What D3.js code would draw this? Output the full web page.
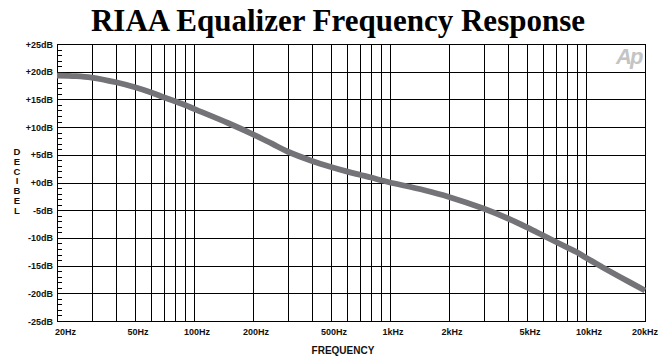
<!DOCTYPE html>
<html>
<head>
<meta charset="utf-8">
<script src="https://cdn.jsdelivr.net/npm/d3@7"></script>
<style>
  body { margin: 0; background: #fff; }
  svg { display: block; }
</style>
</head>
<body>
<div id="chart"></div>
<script>
// Chart data
const freqs = [20, 25, 30, 40, 50, 60, 70, 80, 90, 100, 150, 200, 250, 300, 400, 500, 600, 700, 800, 900,
  1000, 1500, 2000, 3000, 4000, 5000, 6000, 7000, 8000, 9000, 10000, 12000, 15000, 20000];
const gainDb = [19.3, 19.2, 18.95, 18.1, 17.2, 16.3, 15.4, 14.65, 14.0, 13.3, 10.7, 8.7, 7.0, 5.6, 3.9, 2.8, 2.0, 1.4, 0.9, 0.4,
  0.0, -1.4, -2.6, -4.7, -6.5, -8.1, -9.5, -10.7, -11.7, -12.6, -13.6, -15.2, -17.1, -19.5];

const gridFreqs = [20, 30, 40, 50, 60, 70, 80, 90, 100, 200, 300, 400, 500, 600, 700, 800, 900,
  1000, 2000, 3000, 4000, 5000, 6000, 7000, 8000, 9000, 10000, 20000];
const labelFreqs = [20, 50, 100, 200, 500, 1000, 2000, 5000, 10000, 20000];
const freqLabels = ["20Hz", "50Hz", "100Hz", "200Hz", "500Hz", "1kHz", "2kHz", "5kHz", "10kHz", "20kHz"];
const dbTicks = [25, 20, 15, 10, 5, 0, -5, -10, -15, -20, -25];
const dbLabels = ["+25dB", "+20dB", "+15dB", "+10dB", "+5dB", "+0dB", "-5dB", "-10dB", "-15dB", "-20dB", "-25dB"];
const minorDb = d3.range(-24, 25).filter(d => d % 5 !== 0);
const yTitle = "DECIBEL".split("");

const width = 667;
const height = 362;
const plotLeft = 57, plotRight = 645, plotTop = 44, plotBottom = 321;

const x = d3.scaleLog().domain([20, 20000]).range([plotLeft, plotRight]);
const y = d3.scaleLinear().domain([-25, 25]).range([plotBottom, plotTop]);

const svg = d3.select("#chart").append("svg")
    .attr("width", width)
    .attr("height", height);

// Title
svg.append("text")
    .attr("x", 338)
    .attr("y", 31)
    .attr("text-anchor", "middle")
    .attr("font-family", "Liberation Serif, Times New Roman, serif")
    .attr("font-weight", "bold")
    .attr("font-size", 31)
    .attr("fill", "#000")
    .text("RIAA Equalizer Frequency Response");

// Watermark
svg.append("text")
    .attr("x", 616)
    .attr("y", 64)
    .attr("font-family", "Liberation Sans, Arial, sans-serif")
    .attr("font-weight", "bold")
    .attr("font-style", "italic")
    .attr("font-size", 22)
    .attr("letter-spacing", -2)
    .attr("fill", "#c4c4c4")
    .text("Ap");

// Grid
const grid = svg.append("g")
    .attr("stroke", "#000")
    .attr("stroke-width", 1.2)
    .attr("shape-rendering", "crispEdges");

grid.selectAll("line.v")
    .data(gridFreqs)
    .enter().append("line")
    .attr("class", "v")
    .attr("x1", d => Math.round(x(d)) + 0.5)
    .attr("x2", d => Math.round(x(d)) + 0.5)
    .attr("y1", plotTop)
    .attr("y2", plotBottom);

grid.selectAll("line.h")
    .data(dbTicks)
    .enter().append("line")
    .attr("class", "h")
    .attr("x1", plotLeft)
    .attr("x2", plotRight)
    .attr("y1", d => Math.round(y(d)) + 0.5)
    .attr("y2", d => Math.round(y(d)) + 0.5);

grid.selectAll("line.m")
    .data(minorDb)
    .enter().append("line")
    .attr("class", "m")
    .attr("x1", plotLeft)
    .attr("x2", plotLeft + 5)
    .attr("y1", d => Math.round(y(d)) + 0.5)
    .attr("y2", d => Math.round(y(d)) + 0.5);

svg.append("rect")
    .attr("x", plotLeft + 0.5)
    .attr("y", plotTop + 0.5)
    .attr("width", plotRight - plotLeft)
    .attr("height", plotBottom - plotTop)
    .attr("fill", "none")
    .attr("stroke", "#000")
    .attr("stroke-width", 1.3)
    .attr("shape-rendering", "crispEdges");

// Response curve
const line = d3.line()
    .x((d, i) => x(freqs[i]))
    .y(d => y(d))
    .curve(d3.curveCatmullRom);

svg.append("path")
    .datum(gainDb)
    .attr("d", line)
    .attr("fill", "none")
    .attr("stroke", "#737378")
    .attr("stroke-width", 5.8);

// Axis labels
const labelFont = "Liberation Sans, Arial, sans-serif";

svg.append("g").selectAll("text")
    .data(dbTicks)
    .enter().append("text")
    .attr("x", 53)
    .attr("y", d => y(d) + 3.5)
    .attr("text-anchor", "end")
    .attr("font-family", labelFont)
    .attr("font-weight", "bold")
    .attr("font-size", 9)
    .attr("fill", "#111")
    .text((d, i) => dbLabels[i]);

svg.append("g").selectAll("text")
    .data(labelFreqs)
    .enter().append("text")
    .attr("x", (d, i) => i === 0 ? 55 : x(d) + (i === labelFreqs.length - 1 ? 0 : 3))
    .attr("y", 335)
    .attr("text-anchor", (d, i) => i === 0 ? "start" : "middle")
    .attr("font-family", labelFont)
    .attr("font-weight", "bold")
    .attr("font-size", 9)
    .attr("fill", "#111")
    .text((d, i) => freqLabels[i]);

svg.append("text")
    .attr("x", 343)
    .attr("y", 354)
    .attr("text-anchor", "middle")
    .attr("font-family", labelFont)
    .attr("font-weight", "bold")
    .attr("font-size", 10)
    .attr("fill", "#111")
    .text("FREQUENCY");

svg.append("g").selectAll("text")
    .data(yTitle)
    .enter().append("text")
    .attr("x", 17)
    .attr("y", (d, i) => 155 + i * 9.8)
    .attr("text-anchor", "middle")
    .attr("font-family", labelFont)
    .attr("font-weight", "bold")
    .attr("font-size", 9.5)
    .attr("fill", "#111")
    .text(d => d);
</script>
</body>
</html>
